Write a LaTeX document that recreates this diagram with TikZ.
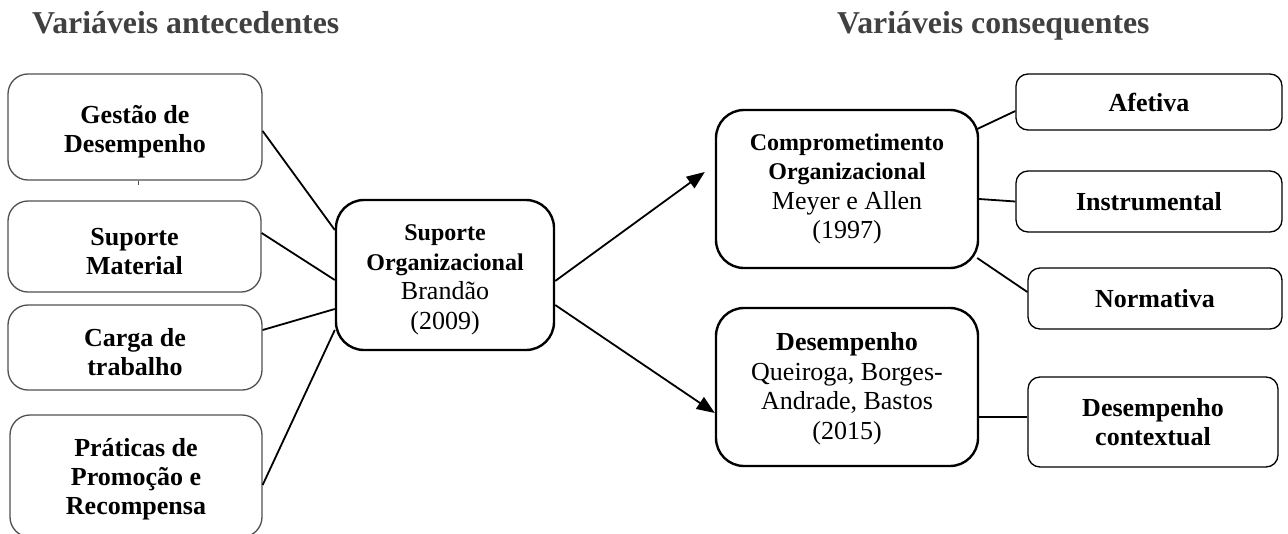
\documentclass[tikz,border=0pt]{standalone}
\usepackage{fontspec}
\setmainfont{Liberation Serif}
\usetikzlibrary{arrows.meta}
\definecolor{titlegray}{HTML}{404040}
\definecolor{boxgray}{HTML}{505050}
\newcommand{\hbfont}{\fontsize{24}{28}\selectfont\bfseries}
\newcommand{\topstrut}{\rule{0pt}{27pt}}
\begin{document}
\begin{tikzpicture}[x=1pt,y=-1pt,
  title/.style={font=\fontsize{31.8}{34}\selectfont\bfseries, text=titlegray, inner sep=0pt},
  lbox/.style={draw=boxgray, line width=1.3pt, rounded corners=20pt, align=center,
    font=\fontsize{26}{29}\selectfont\bfseries, inner sep=0pt},
  cbox/.style={draw=black, line width=2.4pt, rounded corners=28pt, align=center,
    font=\fontsize{26}{29.5}\selectfont, inner sep=0pt, minimum width=262pt, minimum height=158pt},
  rbox/.style={draw=black, line width=1.3pt, rounded corners=12pt, align=center,
    font=\fontsize{26}{29}\selectfont\bfseries, inner sep=0pt},
  conn/.style={draw=black, line width=1.8pt},
  arr/.style={conn, -{Triangle[length=18pt,width=14pt]}}
]
\useasboundingbox (0,0) rectangle (1288,533);

% titles
\node[title, anchor=base west] (t1) at (32,33) {Variáveis antecedentes};
\node[title, anchor=base west] (t2) at (837,33) {Variáveis consequentes};

% left boxes
\node[lbox, minimum width=254pt, minimum height=106pt] (g1) at (135,127) {\topstrut Gestão de\\Desempenho};
\node[lbox, minimum width=253pt, minimum height=91pt] (g2) at (134.5,246.5) {\topstrut Suporte\\Material};
\node[lbox, minimum width=254pt, minimum height=85pt] (g3) at (135,347.5) {\topstrut Carga de\\trabalho};
\node[lbox, minimum width=252pt, minimum height=122pt] (g4) at (136,476) {\rule{0pt}{25pt}Práticas de\\Promoção e\\Recompensa};

% small tick under first box
\coordinate (tk) at ([xshift=3pt]g1.south);
\draw[line width=0.8pt, boxgray] (tk) -- ++(0,4);

% centre box
\node[cbox, minimum width=218pt, minimum height=150pt] (s) at (445,275)
  {{\hbfont\rule{0pt}{26pt}Suporte}\\{\hbfont Organizacional}\\Brandão\\(2009)};

% consequent boxes
\node[cbox] (c) at (847,189)
  {{\hbfont Comprometimento}\\{\hbfont Organizacional}\\Meyer e Allen\\(1997)};
\node[cbox] (d) at (847,387)
  {{\bfseries\rule{0pt}{22pt}Desempenho}\\Queiroga, Borges-\\Andrade, Bastos\\(2015)};

% right boxes
\node[rbox, minimum width=266pt, minimum height=56pt] (a) at (1149,102) {Afetiva};
\node[rbox, minimum width=266pt, minimum height=61pt] (i) at (1149,201.5) {Instrumental};
\node[rbox, minimum width=254pt, minimum height=61pt] (n) at (1155,298.5) {Normativa};
\node[rbox, minimum width=250pt, minimum height=90pt] (dc) at (1153,422) {Desempenho\\contextual};

% connectors left -> centre
\draw[conn] ([yshift=-4pt]g1.east) -- ([yshift=45pt]s.west);
\draw[conn] ([yshift=13.5pt]g2.east) -- ([yshift=-5pt]s.west);
\draw[conn] ([yshift=17.5pt]g3.east) -- ([yshift=-34pt]s.west);
\draw[conn] ([yshift=-9pt]g4.east) -- ([yshift=-55pt]s.west);

% arrows centre -> consequents
\draw[arr] ([yshift=-6pt]s.east) -- ([xshift=-10pt,yshift=17pt]c.west);
\draw[arr] ([yshift=-30pt]s.east) -- ([yshift=-26pt]d.west);

% connectors to dimensions
\draw[conn] ([xshift=-2pt,yshift=60pt]c.east) -- ([yshift=-9pt]a.west);
\draw[conn] ([yshift=-10pt]c.east) -- (i.west);
\draw[conn] ([xshift=-2pt,yshift=-69pt]c.east) -- ([yshift=6.5pt]n.west);
\draw[conn] ([yshift=-30pt]d.east) -- ([yshift=5pt]dc.west);
\end{tikzpicture}
\end{document}
